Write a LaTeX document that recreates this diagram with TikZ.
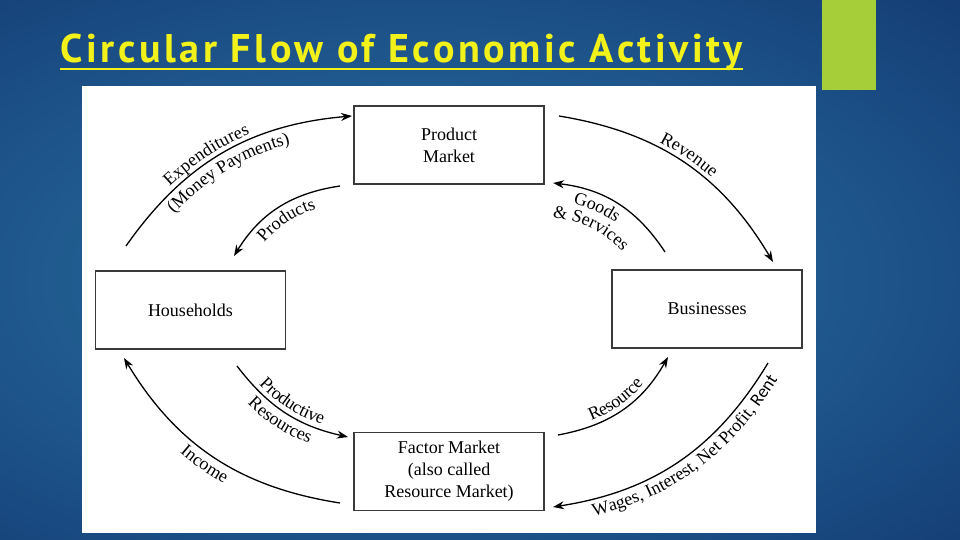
\documentclass[tikz,border=0pt]{standalone}
\usepackage{fontspec}
\setmainfont{Liberation Serif}
\newfontfamily\titlefont[LetterSpace=9]{PT Sans}
\newfontfamily\rentfont{Carlito}
\usetikzlibrary{arrows.meta,calc,decorations.text}
\definecolor{slidenavy}{HTML}{0D2E66}
\definecolor{slidemid}{HTML}{1E568C}
\definecolor{slideteal}{HTML}{2A7399}
\definecolor{slidegreen}{HTML}{A6CE39}
\definecolor{titleyellow}{HTML}{F2F21A}
\definecolor{boxline}{HTML}{3A3A3A}
\newcommand\flowfont{\fontsize{18}{19}\selectfont}
\pgfdeclareradialshading{slideglow}{\pgfpoint{0bp}{0bp}}{color(0bp)=(slideteal); color(20bp)=(slidemid); color(45bp)=(slidenavy); color(50bp)=(slidenavy)}

\begin{document}
\begin{tikzpicture}[x=1pt, y=1pt,
		market/.style={draw=boxline, line width=1.4pt, fill=white, minimum width=190pt, minimum height=78pt, align=center, font=\fontsize{18}{22}\selectfont},
		flow/.style={line width=1.3pt, -{Stealth[length=11pt, width=8pt]}},
		along/.style={decoration={text along path, text align=center, text={|\flowfont|#1}}, decorate}]
		\useasboundingbox (0,0) rectangle (960,540);
		\begin{scope}
			\clip (0,0) rectangle (960,540);
			\shade[shading=slideglow] (-120,-20) rectangle (960,540);
		\end{scope}
		\fill[slidegreen] (822,450) rectangle (876,540);
		\fill[white] (82,7) rectangle (816,454);
		
		% title
		\node[anchor=base west, text=titleyellow, inner sep=0pt] (title) at (60,477) {\titlefont\bfseries\fontsize{40}{40}\selectfont Circular Flow of Economic Activity};
		\draw[titleyellow, line width=2.5pt] ([yshift=-6pt]title.base west) -- ([yshift=-6pt]title.base east);
		
		% markets and sectors
		\node[market] (pm) at (449,395) {Product\\Market};
		\node[market] (hh) at (190.5,230) {Households};
		\node[market] (bz) at (707,231) {Businesses};
		\node[market] (fm) at (449,68.5) {Factor Market\\(also called\\Resource Market)};
		
		\coordinate (exp-s) at (126,294);
		\coordinate (exp-e) at (352,424);
		\coordinate (prod-s) at (340,354);
		\coordinate (prod-e) at (234,284);
		\coordinate (rev-s) at (559,424);
		\coordinate (rev-e) at (773,278);
		\coordinate (gs-s) at (665,288);
		\coordinate (gs-e) at (553,357);
		\coordinate (res-s) at (558,105);
		\coordinate (res-e) at (668,183);
		\coordinate (wip-s) at (768,177);
		\coordinate (wip-e) at (553,33);
		\coordinate (pr-s) at (237,174);
		\coordinate (pr-e) at (348,103);
		\coordinate (inc-s) at (340,37);
		\coordinate (inc-e) at (124,182);
		
		% flows
		\draw[flow] (exp-s) to[bend left=25] (exp-e);
		\draw[flow] (prod-s) to[bend right=25] (prod-e);
		\draw[flow] (rev-s) to[bend left=25] (rev-e);
		\draw[flow] (gs-s) to[bend right=25] (gs-e);
		\draw[flow] (res-s) to[bend right=25] (res-e);
		\draw[flow] (wip-s) to[bend left=25] (wip-e);
		\draw[flow] (pr-s) to[bend right=20] (pr-e);
		\draw[flow] (inc-s) to[bend left=25] (inc-e);
		
		% baselines for the labels under the flows
		\coordinate (mp-a) at ($(exp-s)!17pt!-65:(exp-e)$);
		\coordinate (mp-b) at ($(exp-e)!17pt!65:(exp-s)$);
		\coordinate (prod-a) at ($(prod-e)!17pt!-65:(prod-s)$);
		\coordinate (prod-b) at ($(prod-s)!17pt!65:(prod-e)$);
		\coordinate (gs-a) at ($(gs-e)!17pt!-65:(gs-s)$);
		\coordinate (gs-b) at ($(gs-s)!17pt!65:(gs-e)$);
		\coordinate (sv-a) at ($(gs-e)!34pt!-65:(gs-s)$);
		\coordinate (sv-b) at ($(gs-s)!34pt!65:(gs-e)$);
		\coordinate (wip-a) at ($(wip-e)!17pt!-115:(wip-s)$);
		\coordinate (wip-b) at ($(wip-s)!17pt!115:(wip-e)$);
		\coordinate (pr-a) at ($(pr-s)!17pt!-110:(pr-e)$);
		\coordinate (pr-b) at ($(pr-e)!17pt!110:(pr-s)$);
		\coordinate (inc-a) at ($(inc-e)!17pt!-115:(inc-s)$);
		\coordinate (inc-b) at ($(inc-s)!17pt!115:(inc-e)$);
		
		% labels, set along the flows
		\path[along={Expenditures}, decoration={raise=5pt, text align={center, right indent=30pt}}] (exp-s) to[bend left=25] (exp-e);
		\path[along={(Money Payments)}, decoration={text align={center, right indent=10pt}}] (mp-a) to[bend left=25] (mp-b);
		\path[along={Products}] (prod-a) to[bend left=25] (prod-b);
		\path[along={Revenue}, decoration={raise=5pt}] (rev-s) to[bend left=25] (rev-e);
		\path[along={Goods}, decoration={text align={center, right indent=30pt}}] (gs-a) to[bend left=25] (gs-b);
		\path[along={{\&} Services}, decoration={text align={center, right indent=20pt}}] (sv-a) to[bend left=25] (sv-b);
		\path[along={Resource}, decoration={raise=5pt}] (res-s) to[bend right=25] (res-e);
		\path[along={Wages, Interest, Net Profit, |\flowfont\rentfont|Rent}, decoration={text align={center, left indent=30pt}}] (wip-a) to[bend right=25] (wip-b);
		\path[along={Productive}, decoration={raise=5pt}] (pr-s) to[bend right=20] (pr-e);
		\path[along={Resources}] (pr-a) to[bend right=20] (pr-b);
		\path[along={Income}, decoration={text align={center, right indent=8pt}}] (inc-a) to[bend right=25] (inc-b);
	\end{tikzpicture}
\end{document}
